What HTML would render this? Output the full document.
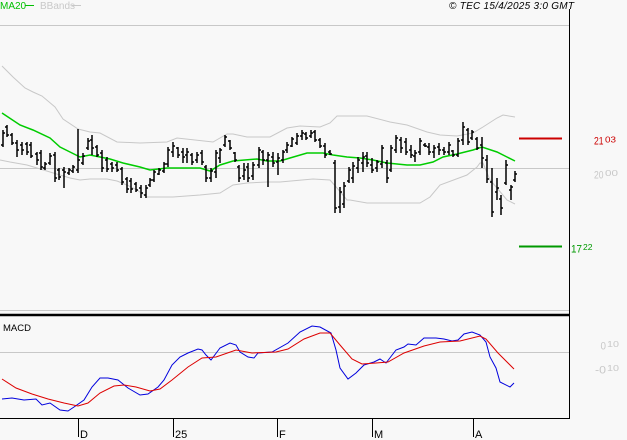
<!DOCTYPE html>
<html><head><meta charset="utf-8"><style>
html,body{margin:0;padding:0;background:#f8f8f8;}
svg{display:block;}
text{font-family:"Liberation Sans",sans-serif;}
</style></head><body>
<svg width="627" height="440" viewBox="0 0 627 440" xmlns="http://www.w3.org/2000/svg">
<rect x="0" y="0" width="627" height="440" fill="#f8f8f8"/>
<text x="0" y="9" font-size="10" fill="#00c000">MA20</text>
<line x1="25" y1="5.5" x2="34" y2="5.5" stroke="#00c000" stroke-width="1"/>
<text x="40" y="9" font-size="10" fill="#c8c8c8">BBands</text>
<line x1="72" y1="5.5" x2="81" y2="5.5" stroke="#c8c8c8" stroke-width="1"/>
<text x="449" y="9" font-size="10" font-style="italic" fill="#000" textLength="125">© TEC 15/4/2025 3:0 GMT</text>
<line x1="0" y1="25.5" x2="569" y2="25.5" stroke="#c8c8c8"/>
<line x1="0" y1="168.5" x2="569" y2="168.5" stroke="#c8c8c8"/>
<line x1="0" y1="310.5" x2="569" y2="310.5" stroke="#c8c8c8"/>
<line x1="0" y1="315" x2="569" y2="315" stroke="#000" stroke-width="2.5"/>
<line x1="0" y1="352.5" x2="569" y2="352.5" stroke="#c8c8c8"/>
<line x1="0" y1="418.5" x2="569.5" y2="418.5" stroke="#000"/>
<line x1="569.5" y1="9" x2="569.5" y2="419" stroke="#000"/>
<polyline fill="none" stroke="#c8c8c8" stroke-width="1" points="2,66 13,77 25,88 33,92 42,96 55,107 63,119 78,129 90,132 100,133 117,142 140,143 167,142 177,138 213,142 227,134 233,134 247,137 270,137 287,128 300,126 320,127 330,123 337,116 367,116 390,122 407,125 427,132 440,135 457,136 473,133 483,127 497,118 503,115 515,117"/>
<polyline fill="none" stroke="#c8c8c8" stroke-width="1" points="0,160 10,162 27,165 37,168 50,172 60,175 70,178 80,180 90,179 107,179 117,181 127,185 137,190 147,197 153,197 173,197 200,195 220,193 233,185 247,183 267,182 280,182 313,179 330,180 337,188 347,200 350,200 367,203 420,203 430,197 440,185 467,175 477,167 480,163 483,163 490,180 497,188 507,200 515,204"/>
<polyline fill="none" stroke="#00cc00" stroke-width="1.5" points="2,113 20,125 33,130 50,138 60,147 70,152 80,157 90,155 100,157 110,159 123,163 140,167 150,170 167,168 187,168 200,168 210,171 220,165 233,161 257,159 267,161 280,161 290,158 307,153 323,153 333,155 347,157 360,158 373,160 387,163 407,165 420,165 433,162 443,157 457,154 473,150 482,147 497,152 507,157 515,161"/>
<path fill="none" stroke="#000" stroke-width="1.5" d="M3 130V147M1 145H3M3 133H5M7 125V137M5 127H7M7 135H9M12 133V145M10 135H12M12 143H14M17 140V157M15 143H17M17 150H19M22 142V155M20 145H22M22 150H24M27 142V155M25 144H27M27 152H29M31 142V158M29 145H31M31 156H33M37 152V165M35 154H37M37 160H39M41 150V170M39 153H41M41 167H43M45 162V170M43 168H45M45 164H47M50 153V165M48 163H50M50 156H52M55 152V182M53 155H55M55 178H57M59 168V180M57 170H59M59 177H61M64 167V188M62 170H64M64 172H66M69 168V175M67 173H69M69 170H71M73 165V173M71 171H73M73 167H75M78 129V173M76 170H78M78 160H80M83 153V165M81 163H83M83 156H85M88 138V150M86 148H88M88 141H90M92 135V155M90 140H92M92 148H94M97 145V157M95 147H97M97 155H99M102 150V172M100 153H102M102 168H104M107 157V172M105 160H107M107 169H109M112 162V172M110 164H112M112 168H114M117 162V172M115 165H117M117 170H119M122 167V185M120 169H122M122 182H124M127 177V193M125 179H127M127 189H129M131 178V193M129 181H131M131 189H133M136 182V192M134 184H136M136 190H138M141 185V198M139 188H141M141 193H143M146 185V198M144 195H146M146 188H148M150 178V187M148 185H150M150 180H152M154 170V182M152 180H154M154 172H156M159 168V175M157 174H159M159 170H161M164 162V173M162 171H164M164 164H166M168 147V167M166 164H168M168 150H170M173 142V157M171 152H173M173 146H175M178 147V158M176 148H178M178 155H180M183 148V163M181 152H183M183 157H185M187 148V163M185 155H187M187 152H189M192 153V165M190 155H192M192 162H194M197 152V163M195 160H197M197 155H199M202 150V165M200 153H202M202 162H204M206 165V182M204 167H206M206 178H208M211 168V182M209 178H211M211 171H213M216 150V178M214 172H216M216 153H218M220 148V163M218 158H220M220 150H222M225 135V147M223 145H225M225 137H227M230 140V150M228 141H230M230 148H232M235 152V162M233 153H235M235 160H237M239 165V182M237 167H239M239 178H241M244 163V180M242 176H244M244 170H246M248 163V182M246 167H248M248 178H250M253 162V180M251 176H253M253 165H255M259 147V168M257 165H259M259 150H261M263 150V165M261 152H263M263 160H265M268 152V187M266 160H268M268 155H270M273 152V167M271 157H273M273 163H275M278 153V175M276 162H278M278 158H280M283 150V163M281 160H283M283 152H285M287 142V153M285 150H287M287 145H289M292 137V147M290 146H292M292 139H294M297 133V145M295 143H297M297 136H299M302 130V140M300 136H302M302 133H304M306 132V140M304 134H306M306 138H308M311 130V138M309 136H311M311 133H313M315 130V142M313 132H315M315 140H317M320 138V148M318 140H320M320 146H322M325 143V158M323 146H325M325 155H327M330 150V155M328 152H330M330 154H332M335 160V213M333 163H335M335 208H337M340 187V213M338 207H340M340 192H342M344 182V208M342 204H344M344 186H346M349 167V183M347 181H349M349 170H351M353 162V183M351 178H353M353 166H355M358 157V173M356 168H358M358 160H360M363 152V172M361 163H363M363 157H365M367 152V167M365 156H367M367 163H369M372 158V173M370 165H372M372 170H374M377 160V172M375 168H377M377 162H379M382 145V168M380 164H382M382 148H384M387 160V183M385 163H387M387 178H389M391 145V172M389 170H391M391 148H393M396 135V153M394 150H396M396 138H398M401 137V153M399 140H401M401 148H403M406 138V155M404 142H406M406 152H408M411 145V158M409 150H411M411 155H413M415 150V162M413 156H415M415 153H417M420 138V155M418 152H420M420 141H422M425 143V147M423 145H425M425 146H427M429 143V155M427 147H429M429 152H431M434 145V158M432 152H434M434 148H436M439 143V155M437 147H439M439 150H441M444 147V155M442 150H444M444 152H446M449 142V155M447 152H449M449 145H451M453 150V157M451 151H453M453 155H455M458 138V157M456 155H458M458 141H460M463 122V145M461 140H463M463 127H465M468 128V145M466 130H468M468 142H470M472 130V140M470 138H472M472 132H474M477 137V150M475 139H477M477 148H479M482 137V168M480 145H482M482 158H484M487 155V183M485 160H487M487 179H489M492 168V217M490 182H492M492 212H494M497 178V200M495 192H497M497 188H499M501 195V215M499 199H501M501 208H503M506 160V185M504 183H506M506 165H508M511 185V200M509 190H511M511 187H513M515 171V182M513 180H515M515 174H517"/>
<line x1="519" y1="138.5" x2="562" y2="138.5" stroke="#cc0000" stroke-width="2"/>
<line x1="519" y1="246.5" x2="562" y2="246.5" stroke="#009900" stroke-width="2"/>
<text x="594" y="144.5" font-size="11" fill="#cc0000" textLength="9.5" lengthAdjust="spacingAndGlyphs">21</text>
<text x="605" y="142.5" font-size="8.5" fill="#cc0000" textLength="11" lengthAdjust="spacingAndGlyphs">03</text>
<text x="594" y="178.5" font-size="11" fill="#c8c8c8" textLength="9.5" lengthAdjust="spacingAndGlyphs">20</text>
<text x="605" y="176" font-size="8.5" fill="#c8c8c8" textLength="13" lengthAdjust="spacingAndGlyphs">00</text>
<text x="571" y="252.5" font-size="11" fill="#009900" textLength="11" lengthAdjust="spacingAndGlyphs">17</text>
<text x="583" y="250" font-size="8.5" fill="#009900" textLength="9.5" lengthAdjust="spacingAndGlyphs">22</text>
<text x="3" y="331" font-size="9.5" fill="#000">MACD</text>
<polyline fill="none" stroke="#0000dd" stroke-width="1" points="2,399 12,398 24,400 36,399 42,405 50,403 60,410 68,411 74,407 84,400 92,387 100,378 108,378 118,380 128,388 140,395 148,394 158,387 164,380 172,365 180,357 188,353 198,349 202,350 206,355 211,360 220,348 230,343 236,345 240,352 248,357 254,358 258,353 272,352 288,343 300,332 312,326 320,327 331,333 336,350 340,368 348,379 356,373 364,365 374,362 380,359 386,363 396,350 404,347 408,344 416,345 424,338 436,338 444,339 452,341 458,340 464,334 472,332 480,335 486,342 490,357 496,368 500,382 510,387 514,383"/>
<polyline fill="none" stroke="#dd0000" stroke-width="1" points="2,379 16,388 32,394 48,399 64,403 78,406 88,403 100,393 114,386 124,385 136,387 150,391 160,389 172,380 188,367 202,358 216,357 236,350 252,353 276,352 288,349 304,339 320,333 330,333 340,345 352,359 362,364 376,363 388,362 404,353 424,346 440,342 460,341 480,336 486,339 498,353 514,369"/>
<text x="600.5" y="349.5" font-size="11" fill="#c8c8c8" textLength="5.5" lengthAdjust="spacingAndGlyphs">0</text>
<text x="607" y="347" font-size="8.5" fill="#c8c8c8" textLength="12" lengthAdjust="spacingAndGlyphs">10</text>
<text x="595" y="373.5" font-size="11" fill="#c8c8c8" textLength="11" lengthAdjust="spacingAndGlyphs">-0</text>
<text x="607" y="371" font-size="8.5" fill="#c8c8c8" textLength="12" lengthAdjust="spacingAndGlyphs">10</text>
<g stroke="#000" stroke-width="1">
<line x1="78.5" y1="419" x2="78.5" y2="437"/>
<line x1="173.5" y1="419" x2="173.5" y2="437"/>
<line x1="277.5" y1="419" x2="277.5" y2="437"/>
<line x1="372.5" y1="419" x2="372.5" y2="437"/>
<line x1="473.5" y1="419" x2="473.5" y2="437"/>
</g>
<g font-size="11" fill="#000">
<text x="80" y="438">D</text>
<text x="175" y="438">25</text>
<text x="279" y="438">F</text>
<text x="374" y="438">M</text>
<text x="475" y="438">A</text>
</g>
</svg>
</body></html>
